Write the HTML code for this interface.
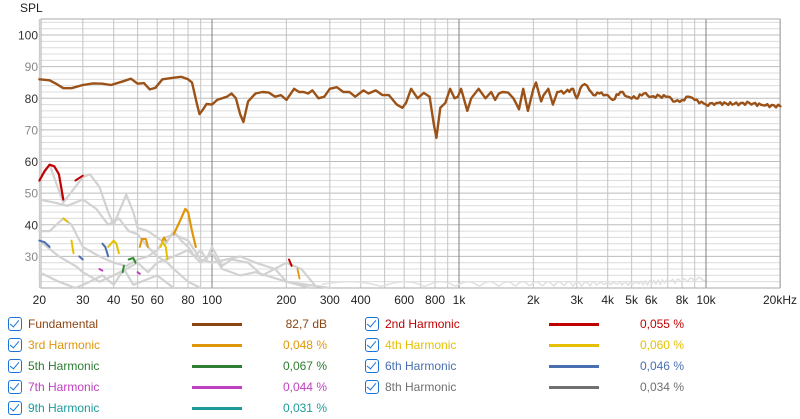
<!DOCTYPE html>
<html><head><meta charset="utf-8"><style>
body{margin:0;background:#fff;width:800px;height:419px;overflow:hidden;font-family:"Liberation Sans",sans-serif}
svg{position:absolute;left:0;top:0}
.lg{position:absolute;font-size:12px;white-space:nowrap}
.cb{position:absolute;width:12px;height:12px;border:1.3px solid #1a73d9;border-radius:3px}
.cb:after{content:"";position:absolute;left:3px;top:0px;width:4px;height:8px;border:solid #1a73d9;border-width:0 1.6px 1.6px 0;transform:rotate(40deg)}
.ln{position:absolute;width:50px;height:3px}
.v{position:absolute;text-align:right;width:100px}
</style></head><body>
<svg id="s" width="800" height="419" font-family="Liberation Sans, sans-serif"></svg>
<div id="leg"></div>
<script>
const S=document.getElementById('s');let h='';
const X=f=>212+247*(Math.log10(f)-2), Y=d=>288-(d-20)*3.162;
const L=41,R=780,T=19,B=288;
for(let d=22;d<=104;d+=2){const y=Y(d);h+=`<line x1="${L}" x2="${R}" y1="${y}" y2="${y}" stroke="${d%10==0?'#bdbdbd':'#dcdcdc'}" stroke-width="1"/>`;}
const fs=[];for(let dec of [10,100,1000,10000])for(let m=1;m<10;m++){const f=dec*m;if(f>=20&&f<=20000)fs.push(f);}
fs.push(20000);
for(const f of fs){const x=X(f);const maj=(f==100||f==1000||f==10000);h+=`<line x1="${x}" x2="${x}" y1="${T}" y2="${B}" stroke="${maj?'#808080':'#c4c4c4'}" stroke-width="1"/>`;}
h+=`<rect x="${L}" y="${T}" width="${R-L}" height="${B-T}" fill="none" stroke="#aaa"/>`;
for(let d=30;d<=100;d+=10)h+=`<text x="38" y="${Y(d)+4.5}" font-size="12" text-anchor="end" fill="${d%20==0?'#333':'#888'}">${d}</text>`;
h+=`<text x="20" y="12" font-size="12" fill="#222">SPL</text>`;
const xl=[[20,'20'],[30,'30'],[40,'40'],[50,'50'],[60,'60'],[80,'80'],[100,'100'],[200,'200'],[300,'300'],[400,'400'],[600,'600'],[800,'800'],[1000,'1k'],[2000,'2k'],[3000,'3k'],[4000,'4k'],[5000,'5k'],[6000,'6k'],[8000,'8k'],[10000,'10k']];
for(const [f,t] of xl)h+=`<text x="${X(f)}" y="304" font-size="12" text-anchor="middle" fill="#222">${t}</text>`;
h+=`<text x="797" y="304" font-size="12" text-anchor="end" fill="#222">20kHz</text>`;
function pl(a,c,w){let p=[];for(let i=0;i<a.length;i+=2)p.push(X(a[i]).toFixed(1)+','+Math.min(B,Y(a[i+1])).toFixed(1));return `<polyline points="${p.join(' ')}" fill="none" stroke="${c}" stroke-width="${w}" stroke-linejoin="round" stroke-linecap="round"/>`;}
const gray='#d2d2d2';
const G=[
[20,54,22,59,25,47,28,52,30,55,32,56,35,52,38,44,40,40,42,44,45,49.5,48,44,50,39,55,38,60,36,65,34,70,38,75,35,80,33,85,30,90,32,95,29,100,33,110,27,120,29,140,28,160,24,200,28,230,26,260,21],
[20,38,22,38,25,42,27,40,30,33,35,30,40,28,45,27,50,29,55,30,60,32,65,36,70,37,80,35,90,29,100,28,130,30,150,28,180,26,200,22,250,20],
[20,35,24,30,28,27,30,25,35,22,40,24,45,26,50,28,55,25,60,28,70,30,80,32,90,28,100,31,110,26,130,24,150,25,200,22,300,20],
[20,25,24,22,28,20,32,22,36,24,40,21,44,26,48,21,60,24,70,20],
[20,48,23,47,26,46,30,48,34,45,38,40,42,42,46,38,50,37,55,33,60,30,66,28,70,26,80,22,90,20]];
for(const g of G)h+=pl(g,gray,2.2);
let hf=[];for(let f=280;f<=10000;f*=1.02){hf.push(f,20.5+1.5*Math.abs(Math.sin(f*0.013))+(f>5000?(Math.log10(f)-3.7)*5:0));}
h+=pl(hf,'#e0e0e0',1.5);
h+=pl([20,54,21,57,22,59,23,58.5,24,56,25,48],'#c00000',2.2);
h+=pl([28,54,30,55.5],'#c00000',2);
h+=pl([70,37,74,41,78,45,80,44,83,38,86,33],'#e0960a',2.2);
h+=pl([51,33,52,35.5,54,35.5,55,33],'#e0960a',2);
h+=pl([63,35,64,36,65,35],'#e0960a',2);
h+=pl([25,42,26,41],'#e6c000',2);h+=pl([27,35,27.5,31],'#e6c000',2);
h+=pl([38,33,40,35,41,34,42,31],'#e6c000',2);h+=pl([62,33,63,34.5,65,33,66,29],'#e6c000',2);
h+=pl([20,35,21,34.5,22,33],'#4a6fb0',2);h+=pl([36,34,37,33,38,30],'#4a6fb0',2);h+=pl([29,30,30,29],'#4a6fb0',2);
h+=pl([46,29,48,29.5,49,28],'#2e8b2e',2);h+=pl([44,27,43.5,25],'#2e8b2e',2);
h+=pl([35,26,36,25.5],'#c040c0',2);h+=pl([50,25,51,24.5],'#c040c0',2);
h+=pl([205,29,210,27],'#c00000',2);h+=pl([222,26,226,23],'#e0960a',1.8);
const F0=[20,86,22,85.7,23.5,84.5,25,83.2,27,83.2,30,84.2,33,84.7,36,84.6,39,84.2,43,85.2,47,86.2,50,84.6,53,84.8,56,82.8,59,83.3,63,86,70,86.5,75,86.8,80,86,83,85,87,78,89,75,92,76.5,95,78.2,100,78,105,79.5,115,80.5,120,81.5,125,80,130,75,134,72.5,140,79,150,81.5,160,82,170,81.8,180,80.5,190,81,200,79.5,215,83,225,82,235,82,245,81.5,255,82.5,270,80,285,80.5,300,83,320,83.5,340,82,360,82,380,80.5,410,82.5,430,81.5,460,82.5,490,81,520,81,560,78,590,77,610,78.5,640,83,680,80,720,81.7,760,80.5,790,72,810,67.5,840,77,880,78.5,920,83,960,80,990,80.5,1020,83,1080,76,1120,80,1200,83,1280,80,1350,82,1400,79.5,1450,81.5,1500,82,1580,81.8,1660,80,1700,78.5,1750,76.5,1820,83,1900,76,2000,83,2050,85,2150,79,2200,81,2300,83,2400,78,2500,82,2700,82,2900,83,3000,80,3150,84,3300,84,3500,81,3700,81.5,4000,81,4200,79.5,4500,82,4800,80.5,5200,80,5600,81.5,6000,80.5,6500,80.7,7000,80.5,7500,79,8000,79.5,8500,80.5,9000,79.5,10000,78,11000,78.5,13000,78.2,15000,78.5,17000,77.8,20000,77.5];
// add HF jitter by interpolation
const F=[];for(let i=0;i<F0.length-2;i+=2){const f1=F0[i],d1=F0[i+1],f2=F0[i+2],d2=F0[i+3];F.push(f1,d1);
if(f1>=2500){const n=Math.max(1,Math.round((Math.log10(f2)-Math.log10(f1))*120));for(let k=1;k<n;k++){const t=k/n;const f=Math.pow(10,Math.log10(f1)*(1-t)+Math.log10(f2)*t);F.push(f,d1*(1-t)+d2*t+0.5*Math.sin(k*2.3+i));}}}
F.push(20000,77.5);
h+=pl(F,'#9a5218',2.4);
S.innerHTML=h;
const items=[['Fundamental','#8b4513','0,0','82,7 dB'],['2nd Harmonic','#c00000','','0,055 %'],['3rd Harmonic','#e0960a','','0,048 %'],['4th Harmonic','#e6c000','','0,060 %'],['5th Harmonic','#2e7d32','','0,067 %'],['6th Harmonic','#4a6fb0','','0,046 %'],['7th Harmonic','#c040c0','','0,044 %'],['8th Harmonic','#707070','','0,034 %'],['9th Harmonic','#1f9a9a','','0,031 %']];
let lg='';
items.forEach((it,i)=>{const col=i%2,row=Math.floor(i/2);const y=317+row*21;const bx=col?365:8;
lg+=`<div class="cb" style="left:${bx}px;top:${y}px"></div><div class="lg" style="left:${bx+20}px;top:${y}px;color:${it[1]}">${it[0]}</div><div class="ln" style="left:${bx+184}px;top:${y+6}px;background:${it[1]}"></div><div class="lg v" style="left:${bx+219}px;top:${y}px;color:${it[1]}">${it[3]}</div>`;});
document.getElementById('leg').innerHTML=lg;
</script>
</body></html>
